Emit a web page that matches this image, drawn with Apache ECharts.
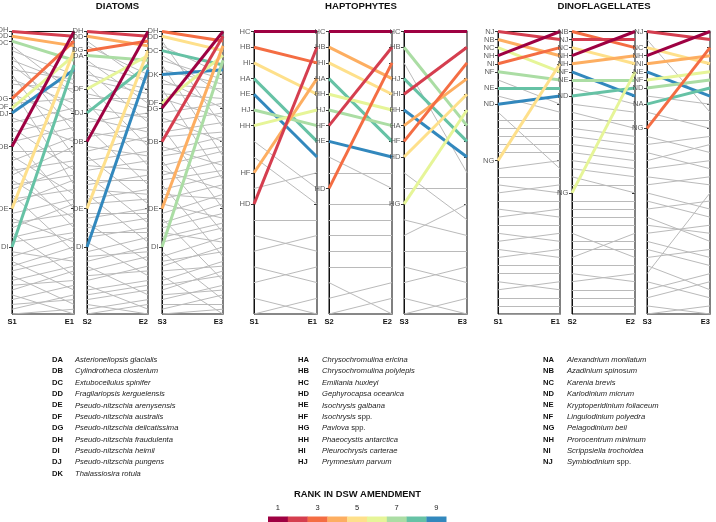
<!DOCTYPE html>
<html><head><meta charset="utf-8">
<script src="https://cdn.jsdelivr.net/npm/echarts@6/dist/echarts.min.js"></script>
<style>html,body{margin:0;padding:0;background:#fff}#c{width:716px;height:522px}</style>
</head><body><div id="c"></div>
<script>
// ---------- DATA ----------
const rankColors = ['#9e0142','#d53e4f','#f46d43','#fdae61','#fee08b','#e6f598','#abdda4','#66c2a5','#3288bd'];
const rankTickLabels = [1,3,5,7,9];
const groupTitles = ['DIATOMS','HAPTOPHYTES','DINOFLAGELLATES'];
const panelStartLabels = ['S1','S2','S3'];
const panelEndLabels = ['E1','E2','E3'];

// Diatoms (60 ranks)
const d1Codes = ['DH','DD','DC','DG','DF','DJ','DB','DE','DI'];
const d1S = [1,2,3,15,17,18,25,38,46];
const d1E = [2,4,7,3,6,9,1,5,8];
const d1GrayS = [4,5,6,7,8,9,10,11,12,13,14,16,19,20,21,22,23,24,26,27,28,29,30,31,32,33,34,35,36,37,39,40,41,42,43,44,45,47,48,49,50,51,52,53,54,55,56,57,58,59,60];
const d1GrayE = [14,10,22,12,18,11,27,16,13,33,20,15,24,17,30,19,38,21,26,35,23,42,28,25,40,31,29,47,34,32,36,45,39,37,52,41,43,49,44,55,46,48,58,50,53,51,60,54,57,56,59];

const d2Codes = ['DH','DD','DG','DA','DF','DJ','DB','DE','DI'];
const d2S = [1,2,5,6,13,18,24,38,46];
const d2E = [2,4,3,7,6,8,1,5,9];
const d2GrayS = [3,4,7,8,9,10,11,12,14,15,16,17,19,20,21,22,23,25,26,27,28,29,30,31,32,33,34,35,36,37,39,40,41,42,43,44,45,47,48,49,50,51,52,53,54,55,56,57,58,59,60];
const d2GrayE = [12,10,16,11,20,13,14,25,17,15,29,19,22,18,33,24,21,27,23,37,26,30,28,41,32,31,35,45,34,36,39,38,49,40,43,42,52,44,47,46,56,48,51,50,59,53,54,55,60,57,58];

const d3Codes = ['DH','DD','DC','DK','DF','DG','DB','DE','DI'];
const d3S = [1,2,5,10,16,17,24,38,46];
const d3E = [3,5,8,9,6,1,2,4,7];
const d3GrayS = [3,4,6,7,8,9,11,12,13,14,15,18,19,20,21,22,23,25,26,27,28,29,30,31,32,33,34,35,36,37,39,40,41,42,43,44,45,47,48,49,50,51,52,53,54,55,56,57,58,59,60];
const d3GrayE = [21,10,14,11,27,12,17,13,32,15,19,16,24,18,38,20,22,29,23,25,43,26,34,28,30,48,31,36,33,40,35,53,37,39,45,41,42,57,44,47,46,50,60,49,52,51,55,54,58,56,59];

// Haptophytes (19 ranks)
const h1Codes = ['HC','HB','HI','HA','HE','HJ','HH','HF','HD'];
const h1S = [1,2,3,4,5,6,7,10,12];
const h1E = [1,3,5,8,9,7,6,4,2];
const h1GrayS = [8,9,11,13,14,15,16,17,18,19];
const h1GrayE = [11,12,10,13,15,14,17,16,19,18];

const h2Codes = ['HC','HB','HI','HA','HH','HJ','HF','HE','HD'];
const h2S = [1,2,3,4,5,6,7,8,11];
const h2E = [1,4,5,8,6,7,2,9,3];
const h2GrayS = [9,10,12,13,14,15,16,17,18,19];
const h2GrayE = [11,10,12,13,14,15,16,19,17,18];

const h3Codes = ['HC','HB','HJ','HI','HH','HA','HF','HD','HG'];
const h3S = [1,2,4,5,6,7,8,9,12];
const h3E = [1,7,8,2,9,4,3,5,6];
const h3GrayS = [3,10,11,13,14,15,16,17,18,19];
const h3GrayE = [10,13,11,14,12,15,17,16,19,18];

// Dinoflagellates (36 ranks)
const n1Codes = ['NJ','NB','NC','NH','NI','NF','NE','ND','NG'];
const n1S = [1,2,3,4,5,6,8,10,17];
const n1E = [2,4,6,1,3,7,8,9,5];
const n1GrayS = [7,9,11,12,13,14,15,16,18,19,20,21,22,23,24,25,26,27,28,29,30,31,32,33,34,35,36];
const n1GrayE = [10,11,18,12,13,14,15,16,17,19,21,20,22,24,23,25,27,26,29,28,30,31,33,32,34,35,36];

const n2Codes = ['NB','NJ','NC','NH','NH','NF','NE','ND','NG'];
const n2S = [1,2,3,4,5,6,7,9,21];
const n2E = [3,2,5,1,4,9,7,8,6];
const n2GrayS = [8,10,11,12,13,14,15,16,17,18,19,20,22,23,24,25,26,27,28,29,30,31,32,33,34,35,36];
const n2GrayE = [10,11,13,12,14,15,16,17,18,19,21,20,22,23,24,25,29,27,28,26,30,32,31,33,34,35,36];

const n3Codes = ['NJ','NC','NH','NI','NE','NF','ND','NA','NG'];
const n3S = [1,3,4,5,6,7,8,10,13];
const n3E = [2,5,1,4,9,6,7,8,3];
const n3GrayS = [2,9,11,12,14,15,16,17,18,19,20,21,22,23,24,25,26,27,28,29,30,31,32,33,34,35,36];
const n3GrayE = [11,10,13,12,16,14,18,15,17,20,19,23,24,22,27,26,25,29,30,28,33,21,34,31,32,36,35];

const groupRankCounts = [60,19,36];

// Species key
const diatomCodes = ['DA','DB','DC','DD','DE','DF','DG','DH','DI','DJ','DK'];
const diatomNames = ['Asterionellopsis glacialis','Cylindrotheca closterium','Extubocellulus spinifer','Fragilariopsis kerguelensis','Pseudo-nitzschia arenysensis','Pseudo-nitzschia australis','Pseudo-nitzschia delicatissima','Pseudo-nitzschia fraudulenta','Pseudo-nitzschia heimii','Pseudo-nitzschia pungens','Thalassiosira rotula'];
const haptoCodes = ['HA','HB','HC','HD','HE','HF','HG','HH','HI','HJ'];
const haptoNames = ['Chrysochromulina ericina','Chrysochromulina polylepis','Emiliania huxleyi','Gephyrocapsa oceanica','Isochrysis galbana','Isochrysis spp.','Pavlova spp.','Phaeocystis antarctica','Pleurochrysis carterae','Prymnesium parvum'];
const dinoCodes = ['NA','NB','NC','ND','NE','NF','NG','NH','NI','NJ'];
const dinoNames = ['Alexandrium monilatum','Azadinium spinosum','Karenia brevis','Karlodinium micrum','Kryptoperidinium foliaceum','Lingulodinium polyedra','Pelagodinium beii','Prorocentrum minimum','Scrippsiella trochoidea','Symbiodinium spp.'];

// ---------- LAYOUT ----------
const FF = '"Liberation Sans", Arial, Helvetica, sans-serif';
const panelLeft = [12,87,162,254,329,404,498,572,647];
const panelWidth = [62,61,61,63,63,63,62,63,63];
const panelTop = 31.5, panelHeight = 282.5;
const titleX = [117.5,361,604];
const keyCodeX = [52,298,543], keyNameX = [75,322,567], keyTop = 360, keyStep = 11.35;
const labelGap = 6.6;

const panels = [
  [d1Codes,d1S,d1E,d1GrayS,d1GrayE],[d2Codes,d2S,d2E,d2GrayS,d2GrayE],[d3Codes,d3S,d3E,d3GrayS,d3GrayE],
  [h1Codes,h1S,h1E,h1GrayS,h1GrayE],[h2Codes,h2S,h2E,h2GrayS,h2GrayE],[h3Codes,h3S,h3E,h3GrayS,h3GrayE],
  [n1Codes,n1S,n1E,n1GrayS,n1GrayE],[n2Codes,n2S,n2E,n2GrayS,n2GrayE],[n3Codes,n3S,n3E,n3GrayS,n3GrayE]
].map((p,i)=>({codes:p[0],s:p[1],e:p[2],gs:p[3],ge:p[4],n:groupRankCounts[Math.floor(i/3)],sl:panelStartLabels[i%3],el:panelEndLabels[i%3]}));

// spread overlapping labels apart (returns pixel offsets only)
function spreadOffsets(ys, gap){
  const idx = ys.map((y,i)=>i).sort((a,b)=>ys[a]-ys[b]);
  let blocks = idx.map(i=>({members:[i]}));
  const center = B => B.members.reduce((s,i)=>s+ys[i],0)/B.members.length;
  let changed = true;
  while(changed){
    changed = false;
    for(let b=0;b<blocks.length-1;b++){
      const A=blocks[b], B=blocks[b+1];
      const aEnd = center(A) + (A.members.length-1)*gap/2;
      const bStart = center(B) - (B.members.length-1)*gap/2;
      if (bStart - aEnd < gap - 1e-6){ blocks.splice(b,2,{members:A.members.concat(B.members)}); changed = true; break; }
    }
  }
  const out = [];
  blocks.forEach(B=>{ const c=center(B); B.members.forEach((m,j)=>{ out[m] = c + (j-(B.members.length-1)/2)*gap - ys[m]; }); });
  return out;
}

const grid=[], xAxis=[], yAxis=[], series=[];
panels.forEach((p,i)=>{
  const pxPerRank = panelHeight/(p.n-1);
  const offs = spreadOffsets(p.s.map(s=>(s-1)*pxPerRank), labelGap);
  grid.push({left:panelLeft[i], top:panelTop, width:panelWidth[i], height:panelHeight, show:true,
    borderColor:'#111', borderWidth:1, backgroundColor:'transparent', containLabel:false, outerBoundsMode:'none'});
  xAxis.push({gridIndex:i, type:'value', min:0, max:1, interval:1,
    axisLine:{show:false, onZero:false}, axisTick:{show:false}, splitLine:{show:false},
    axisLabel:{formatter:v=>v===0?p.sl:p.el, fontSize:7.5, fontWeight:'bold', color:'#111', fontFamily:FF, margin:4,
      alignMinLabel:'center', alignMaxLabel:'right'}});
  yAxis.push({gridIndex:i, type:'value', inverse:true, min:1, max:p.n, position:'left',
    axisLine:{show:true, onZero:false, lineStyle:{color:'#111', width:1}},
    axisTick:{show:true, customValues:p.s, length:3, lineStyle:{color:'#333', width:1}},
    axisLabel:{show:false}, splitLine:{show:false}});
  yAxis.push({gridIndex:i, type:'value', inverse:true, min:1, max:p.n, position:'right',
    axisLine:{show:true, onZero:false, lineStyle:{color:'#808080', width:2}},
    axisTick:{show:true, inside:true, customValues:p.s, length:3, lineStyle:{color:'#333', width:1}},
    axisLabel:{show:false}, splitLine:{show:false}});
  series.push({type:'lines', coordinateSystem:'cartesian2d', xAxisIndex:i, yAxisIndex:2*i, silent:true, z:2,
    lineStyle:{color:'#bababa', width:1, opacity:1},
    data:p.gs.map((s,k)=>({coords:[[0,s],[1,p.ge[k]]]}))});
  const order = p.codes.map((c,k)=>k).sort((a,b)=>p.e[b]-p.e[a]);
  series.push({type:'lines', coordinateSystem:'cartesian2d', xAxisIndex:i, yAxisIndex:2*i, silent:true, z:3,
    lineStyle:{width:3, opacity:1},
    data:order.map(k=>({name:p.codes[k], coords:[[0,p.s[k]],[1,p.e[k]]], lineStyle:{color:rankColors[p.e[k]-1], width:3, opacity:1}}))});
  p.s.forEach((s,k)=>{
    series.push({type:'scatter', xAxisIndex:i, yAxisIndex:2*i, silent:true, clip:false, z:4, symbol:'circle', symbolSize:1,
      itemStyle:{color:'rgba(0,0,0,0)'},
      label:{show:true, position:'left', distance:3, formatter:d=>d.name, fontSize:7.6, color:'#333', fontFamily:FF},
      labelLayout:{hideOverlap:false, moveOverlap:false, dy:offs[k]},
      data:[{name:p.codes[k], value:[0,s]}]});
  });
});

const graphic=[];
groupTitles.forEach((t,g)=>graphic.push({type:'text', x:titleX[g], y:6, style:{text:t, font:'bold 9.6px '+FF, fill:'#111', align:'center', verticalAlign:'middle', textAlign:'center', textVerticalAlign:'middle'}}));
function nameRich(n){ return n.endsWith(' spp.') ? '{i|'+n.slice(0,-5)+'}{n| spp.}' : '{i|'+n+'}'; }
[[diatomCodes,diatomNames],[haptoCodes,haptoNames],[dinoCodes,dinoNames]].forEach((col,g)=>{
  col[0].forEach((c,k)=>{
    const y = keyTop + k*keyStep;
    graphic.push({type:'text', x:keyCodeX[g], y:y, style:{text:c, font:'bold 7.6px '+FF, fill:'#111', align:'left', verticalAlign:'middle', textAlign:'left', textVerticalAlign:'middle'}});
    graphic.push({type:'text', x:keyNameX[g], y:y, style:{text:nameRich(col[1][k]), font:'7.6px '+FF, fill:'#222', align:'left', verticalAlign:'middle', textAlign:'left', textVerticalAlign:'middle',
      rich:{i:{fontStyle:'italic', fontSize:7.6, fontFamily:FF, fill:'#222'}, n:{fontSize:7.6, fontFamily:FF, fill:'#222'}}}});
  });
});
const barX=268, barW=19.8, barY=516.5;
graphic.push({type:'text', x:357.5, y:494, style:{text:'RANK IN DSW AMENDMENT', font:'bold 9.4px '+FF, fill:'#111', align:'center', verticalAlign:'middle', textAlign:'center', textVerticalAlign:'middle'}});
rankColors.forEach((c,k)=>graphic.push({type:'rect', shape:{x:barX+k*barW, y:barY, width:barW+0.3, height:7}, style:{fill:c}}));
rankTickLabels.forEach(r=>graphic.push({type:'text', x:barX+(r-0.5)*barW, y:508, style:{text:String(r), font:'7.5px '+FF, fill:'#222', align:'center', verticalAlign:'middle', textAlign:'center', textVerticalAlign:'middle'}}));

const chart = echarts.init(document.getElementById('c'), null, {renderer:'canvas'});
chart.setOption({animation:false, backgroundColor:'#fff', textStyle:{fontFamily:FF}, grid, xAxis, yAxis, series, graphic});
</script></body></html>
